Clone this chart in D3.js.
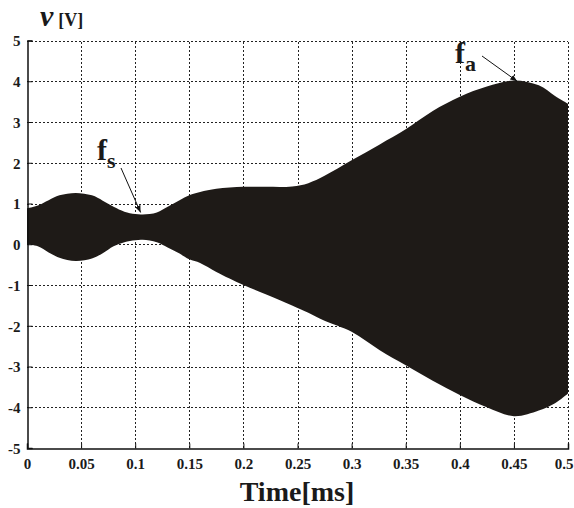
<!DOCTYPE html>
<html><head><meta charset="utf-8">
<script src="https://cdn.jsdelivr.net/npm/d3@7"></script>
<style>
html,body{margin:0;padding:0;background:#fff;}
svg text{font-family:"Liberation Serif","Times New Roman",serif;font-weight:bold;fill:#1a1a1a;}
</style></head>
<body>
<svg id="chart" width="574" height="508"></svg>
<script>
const time  = [0, 0.01, 0.02, 0.03, 0.045, 0.06, 0.07, 0.08, 0.09, 0.1, 0.107, 0.12, 0.13, 0.141, 0.15, 0.16, 0.175, 0.2, 0.22, 0.245, 0.26, 0.275, 0.3, 0.326, 0.35, 0.375, 0.4, 0.425, 0.45, 0.473, 0.488, 0.5];
const upper = [0.88, 0.95, 1.08, 1.2, 1.26, 1.2, 1.07, 0.92, 0.8, 0.74, 0.73, 0.78, 0.92, 1.08, 1.2, 1.28, 1.36, 1.41, 1.41, 1.42, 1.5, 1.68, 2.06, 2.45, 2.82, 3.27, 3.62, 3.87, 4.02, 3.9, 3.64, 3.45];
const lower = [0.0, -0.05, -0.2, -0.33, -0.41, -0.35, -0.22, -0.05, 0.05, 0.1, 0.11, 0.05, -0.08, -0.23, -0.37, -0.46, -0.68, -1.0, -1.22, -1.5, -1.68, -1.88, -2.15, -2.6, -2.97, -3.35, -3.7, -4.0, -4.22, -4.08, -3.9, -3.66];
const xTicks = [0, 0.05, 0.1, 0.15, 0.2, 0.25, 0.3, 0.35, 0.4, 0.45, 0.5];
const xTickLabels = ["0", "0.05", "0.1", "0.15", "0.2", "0.25", "0.3", "0.35", "0.4", "0.45", "0.5"];
const yTicks = [-5, -4, -3, -2, -1, 0, 1, 2, 3, 4, 5];
const yTickLabels = ["-5", "-4", "-3", "-2", "-1", "0", "1", "2", "3", "4", "5"];
const annotations = [
  {base: "f", sub: "s", t: 0.105, v: 0.78},
  {base: "f", sub: "a", t: 0.453, v: 4.0}
];

const svg = d3.select("#chart");
const x = d3.scaleLinear().domain([0, 0.5]).range([27, 568]);
const y = d3.scaleLinear().domain([-5, 5]).range([448, 40.5]);

// grid
const grid = svg.append("g").attr("stroke", "#222").attr("stroke-width", 1).attr("stroke-dasharray", "2,2");
grid.selectAll("line.v").data(xTicks.slice(1)).join("line")
  .attr("x1", d => Math.round(x(d)) + 0.5).attr("x2", d => Math.round(x(d)) + 0.5)
  .attr("y1", y(-5)).attr("y2", y(5));
grid.selectAll("line.h").data(yTicks.slice(1)).join("line")
  .attr("y1", d => Math.round(y(d)) + 0.5).attr("y2", d => Math.round(y(d)) + 0.5)
  .attr("x1", x(0)).attr("x2", x(0.5));

// envelope
const data = time.map((t, i) => ({t, u: upper[i], l: lower[i]}));
const area = d3.area().x(d => x(d.t)).y0(d => y(d.l)).y1(d => y(d.u)).curve(d3.curveCatmullRom.alpha(0.5));
svg.append("path").datum(data).attr("d", area).attr("fill", "#1e1a17");

// axes
const xAxis = d3.axisBottom(x).tickValues(xTicks).tickFormat((d, i) => xTickLabels[i]).tickSize(-5).tickPadding(10);
const gx = svg.append("g").attr("transform", `translate(0,${Math.round(y(-5)) + 0.5})`).call(xAxis);
const yAxis = d3.axisLeft(y).tickValues(yTicks).tickFormat((d, i) => yTickLabels[i]).tickSize(-5).tickPadding(7);
const gy = svg.append("g").attr("transform", `translate(${Math.round(x(0)) + 0.5},0)`).call(yAxis);
[gx, gy].forEach(g => {
  g.select(".domain").attr("stroke", "#111").attr("stroke-width", 1.5);
  g.selectAll(".tick line").attr("stroke", "#111");
  g.selectAll(".tick text").attr("font-size", 15).attr("font-family", '"Liberation Serif", serif').attr("font-weight", "bold").attr("fill", "#1a1a1a");
});
gy.selectAll(".tick text").attr("dy", "0.35em");
gx.selectAll(".tick text").filter(d => d === 0.5).attr("text-anchor", "end").attr("x", 5);

// axis titles
svg.append("text").attr("x", 297).attr("y", 501).attr("text-anchor", "middle").attr("font-size", 28).text("Time[ms]");
const yt = svg.append("text").attr("x", 40).attr("y", 26);
yt.append("tspan").attr("font-size", 30).attr("font-style", "italic").text("v");
yt.append("tspan").attr("font-size", 18).attr("dx", 5).text("[V]");

// annotations
svg.append("defs").append("marker").attr("id", "ah").attr("viewBox", "0 0 10 10")
  .attr("refX", 10).attr("refY", 5).attr("markerWidth", 7).attr("markerHeight", 7).attr("orient", "auto")
  .append("path").attr("d", "M0,1 L10,5 L0,9 Z").attr("fill", "#111");
const ann = [
  {lx: 97, ly: 160, ax0: 121, ay0: 168},
  {lx: 455, ly: 63, ax0: 482, ay0: 56}
];
annotations.forEach((a, i) => {
  const p = ann[i];
  const tx = svg.append("text").attr("x", p.lx).attr("y", p.ly).attr("font-size", 30);
  tx.append("tspan").text(a.base);
  tx.append("tspan").attr("font-size", 22).attr("dy", 8).text(a.sub);
  svg.append("line").attr("x1", p.ax0).attr("y1", p.ay0).attr("x2", x(a.t)).attr("y2", y(a.v))
    .attr("stroke", "#111").attr("stroke-width", 1).attr("marker-end", "url(#ah)");
});
</script>
</body></html>
